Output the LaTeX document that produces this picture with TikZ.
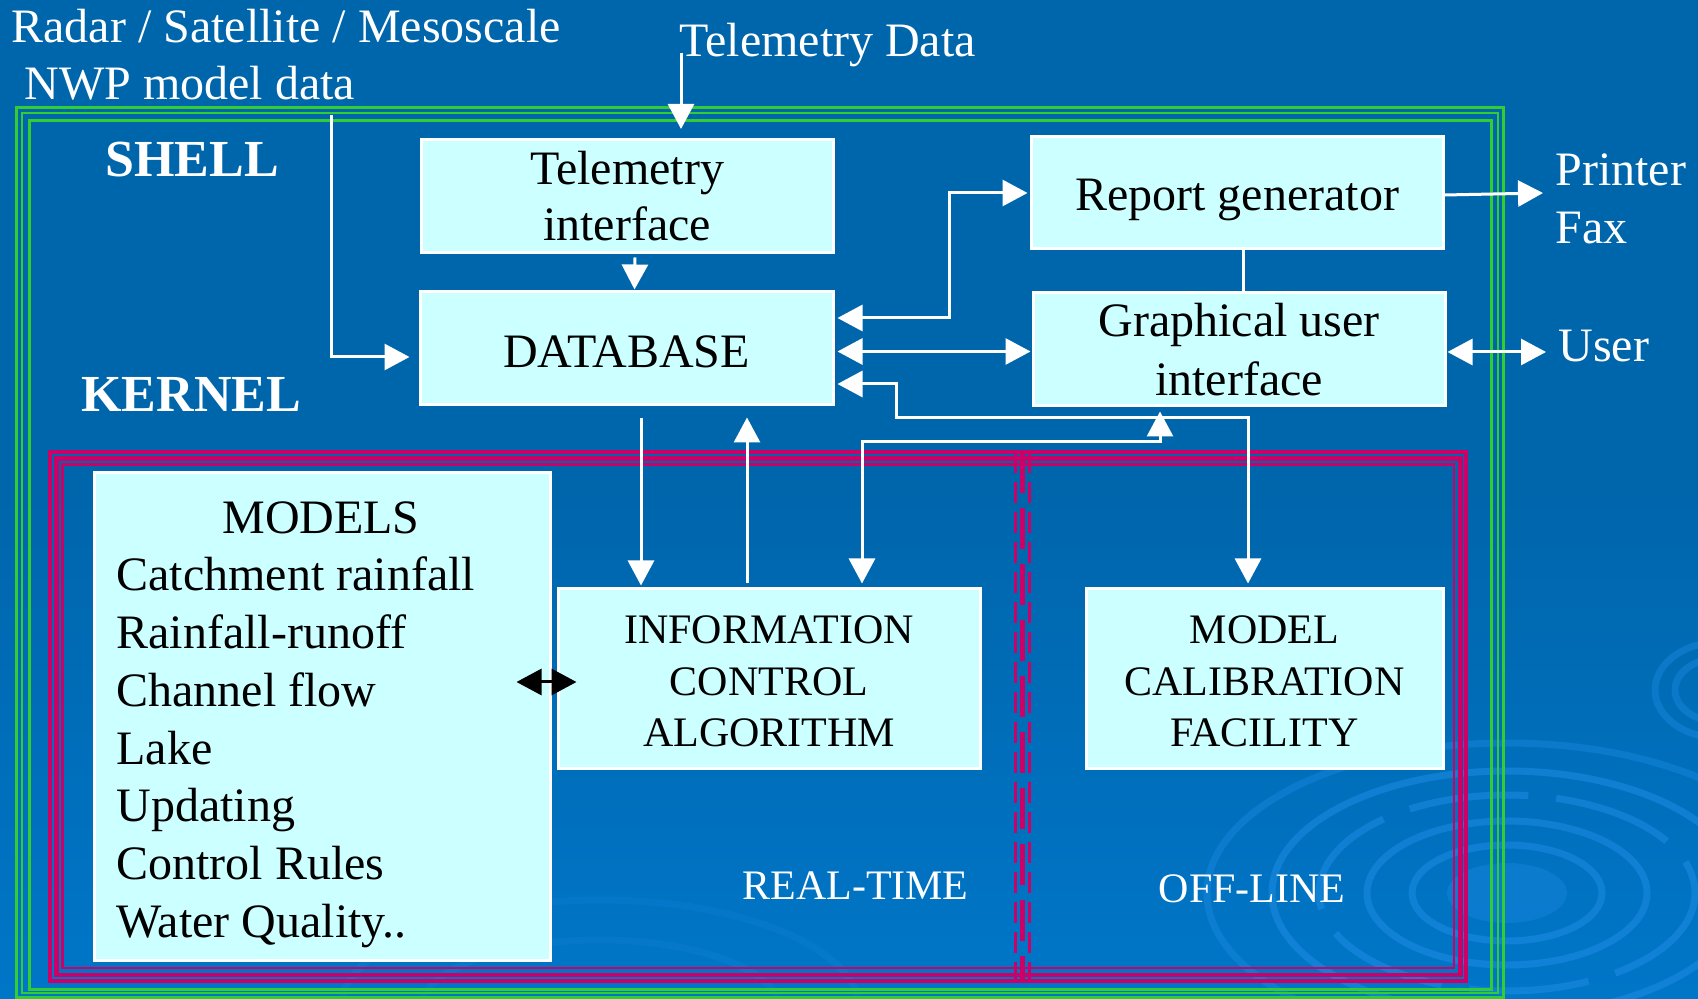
\documentclass[tikz,border=0pt]{standalone}
\usepackage{fontspec}
\setmainfont{Liberation Serif}
\usetikzlibrary{arrows.meta,calc}

\definecolor{bgtop}{RGB}{0,102,172}
\definecolor{bgbot}{RGB}{0,118,200}
\definecolor{ripple}{RGB}{30,140,228}
\definecolor{boxfill}{RGB}{204,255,255}
\definecolor{shellgreen}{RGB}{51,204,51}
\definecolor{kernelred}{RGB}{204,0,102}

\tikzset{
  box/.style={draw=white, line width=1.5pt, fill=boxfill, inner sep=0pt,
              text=black, align=center},
  lbl/.style={text=white, inner sep=0pt, font=\fontsize{24}{28}\selectfont},
  smalllbl/.style={text=white, inner sep=0pt, font=\fontsize{21}{25}\selectfont},
  biglbl/.style={text=white, inner sep=0pt, font=\bfseries\fontsize{26}{30}\selectfont},
  warrow/.style={draw=white, line width=1.5pt, -{Triangle[length=12.5pt,width=13pt]}},
  wdarrow/.style={draw=white, line width=1.5pt,
                  {Triangle[length=12.5pt,width=13pt]}-{Triangle[length=12.5pt,width=13pt]}},
  bdarrow/.style={draw=black, line width=1.5pt,
                  {Triangle[length=12.5pt,width=13pt]}-{Triangle[length=12.5pt,width=13pt]}},
  wline/.style={draw=white, line width=1.5pt},
  ring/.style={draw=ripple, line width=3.5pt, opacity=0.55},
}

\begin{document}
\begin{tikzpicture}[x=0.5pt,y=-0.5pt]
% canvas
\useasboundingbox (0,0) rectangle (1698,999);
\shade[top color=bgtop, bottom color=bgbot, middle color=bgtop, shading angle=0]
  (0,0) rectangle (1698,999);

% water ripples in the background
\begin{scope}
  \clip (0,0) rectangle (1698,999);
  \fill[ripple, opacity=0.35] (1507,893) ellipse [x radius=60, y radius=30];
  \draw[ring] (1507,893) ellipse [x radius=95, y radius=48];
  \draw[ring] (1507,893) ellipse [x radius=140, y radius=72];
  \draw[ring, dash pattern=on 60pt off 14pt] (1507,893) ellipse [x radius=188, y radius=98];
  \draw[ring] (1507,893) ellipse [x radius=235, y radius=122];
  \draw[ring, opacity=0.4] (1507,893) ellipse [x radius=300, y radius=150];
  \draw[ring, opacity=0.4] (1720,690) ellipse [x radius=45, y radius=32];
  \draw[ring, opacity=0.4] (1720,690) ellipse [x radius=65, y radius=48];
  \draw[ring, opacity=0.18] (600,1010) ellipse [x radius=260, y radius=110];
  \draw[ring, opacity=0.18] (600,1010) ellipse [x radius=180, y radius=70];
\end{scope}

% shell frame (three green lines)
\draw[shellgreen, line width=1.5pt] (16,108) rectangle (1503,997);
\draw[shellgreen, line width=1pt]   (21.5,113.5) rectangle (1497.5,993);
\draw[shellgreen, line width=1.5pt] (29,121) rectangle (1491,989);

% kernel frame (three magenta lines)
\draw[kernelred, line width=1.75pt] (50,452) rectangle (1466,981);
\draw[kernelred, line width=2.25pt] (56.5,458.5) rectangle (1460.5,975);
\draw[kernelred, line width=1.25pt] (62.5,464.5) rectangle (1454,968);

% real-time / off-line divider
\draw[kernelred, line width=1.5pt, dash pattern=on 10.5pt off 4.5pt] (1015.5,452) -- (1015.5,981);
\draw[kernelred, line width=1.5pt, dash pattern=on 10.5pt off 4.5pt] (1029.5,452) -- (1029.5,981);
\draw[kernelred, line width=2.5pt, dash pattern=on 20.5pt off 7.5pt] (1022.5,452) -- (1022.5,981);

% outside labels
\node[lbl, anchor=base west] (radar) at (11,43) {Radar / Satellite / Mesoscale};
\node[lbl, anchor=base west] (nwp) at (24,100) {NWP model data};
\node[lbl, anchor=base west] (teldata) at (679,57) {Telemetry Data};
\node[lbl, anchor=base west] (printer) at (1555,186) {Printer};
\node[lbl, anchor=base west] (fax) at (1555,244) {Fax};
\node[lbl, anchor=base west] (user) at (1558,362) {User};
\node[biglbl, anchor=base west] (shell) at (105,177) {SHELL};
\node[biglbl, anchor=base west] (kernel) at (81,412) {KERNEL};
\node[smalllbl, anchor=base] (realtime) at (855.5,899) {REAL-TIME};
\node[smalllbl, anchor=base] (offline) at (1252,902) {OFF-LINE};

% shell components
\node[box, minimum width=206pt, minimum height=56.5pt,
      font=\fontsize{24}{28}\selectfont] (telif) at (627,196.5) {Telemetry\\interface};
\node[box, minimum width=206.5pt, minimum height=56.5pt, text height=19pt, text depth=0pt,
      font=\fontsize{24}{28}\selectfont] (db) at (626.5,348.5) {DATABASE};
\node[box, minimum width=206pt, minimum height=56pt, text height=18pt, text depth=0pt,
      font=\fontsize{24}{28}\selectfont] (report) at (1237,193) {Report generator};
\node[box, minimum width=206pt, minimum height=56.5pt,
      font=\fontsize{24}{29.5}\selectfont] (gui) at (1239,349.5) {Graphical user\\interface};

% kernel components
\node[box, minimum width=228pt, minimum height=243.5pt] (models) at (322,716.5) {};
\node[box, minimum width=211pt, minimum height=89.5pt,
      font=\fontsize{21}{25.75}\selectfont] (info) at (769,678.5)
      {\rule{0pt}{17pt}INFORMATION\\CONTROL\\ALGORITHM};
\node[box, minimum width=178.5pt, minimum height=89.5pt,
      font=\fontsize{21}{25.75}\selectfont] (mcf) at (1264.5,678.5)
      {\rule{0pt}{17pt}MODEL\\CALIBRATION\\FACILITY};

\node[anchor=base, inner sep=0pt, font=\fontsize{24}{28}\selectfont] (modtitle) at (321,534) {MODELS};
\foreach \t [count=\i] in {Catchment rainfall, Rainfall-runoff, Channel flow, Lake,
                           Updating, Control Rules, Water Quality..}
  \node[anchor=base west, inner sep=0pt, font=\fontsize{24}{28}\selectfont]
    (mline\i) at (116,{591+57.7*(\i-1)}) {\t};

% bend points
\coordinate (tdstart) at (681,53);
\coordinate (tdend) at (681,129);
\coordinate (nwpstart) at (331,115);
\coordinate (calbend) at (896,418);
\coordinate (guibend) at (862,442);
\coordinate (prtip) at (1543,193);
\coordinate (usertip) at (1546,352);

% data feeds into the shell
\draw[warrow] (tdstart) -- (tdend);
\draw[warrow] ($(telif.south)+(8,3)$) -- ($(db.north)+(8,-1)$);
\draw[warrow] (nwpstart) |- ($(db.west)+(-9,8.5)$);

% database links
\draw[wdarrow] ($(db.east)+(3,-30.5)$) -| ($(report.west)+(-80,0)$) -- ($(report.west)+(-2,0)$);
\draw[wdarrow] ($(db.east)+(3,3)$) -- ($(gui.west)+(-1,2)$);
\draw[wdarrow] ($(db.east)+(3,35.5)$) -| (calbend) -| ($(mcf.north)+(-16.5,-4)$);
\draw[warrow] ($(db.south)+(14.5,12)$) -- ($(info.north)+(-128,-2)$);
\draw[warrow] ($(info.north)+(-22,-4)$) -- ($(db.south)+(120.5,11)$);
\draw[wdarrow] ($(info.north)+(93,-4)$) -- (guibend) -| ($(gui.south)+(-79,4)$);

% user side
\draw[wline] ($(report.south)+(6,0)$) -- ($(gui.north)+(4,0)$);
\draw[warrow] ($(report.east)+(0,2)$) -- (prtip);
\draw[wdarrow] ($(gui.east)+(1,2.5)$) -- (usertip);

% models <-> control algorithm
\draw[bdarrow] ($(models.east)+(-35,-34.5)$) -- ($(info.west)+(20,3.5)$);
\end{tikzpicture}
\end{document}
